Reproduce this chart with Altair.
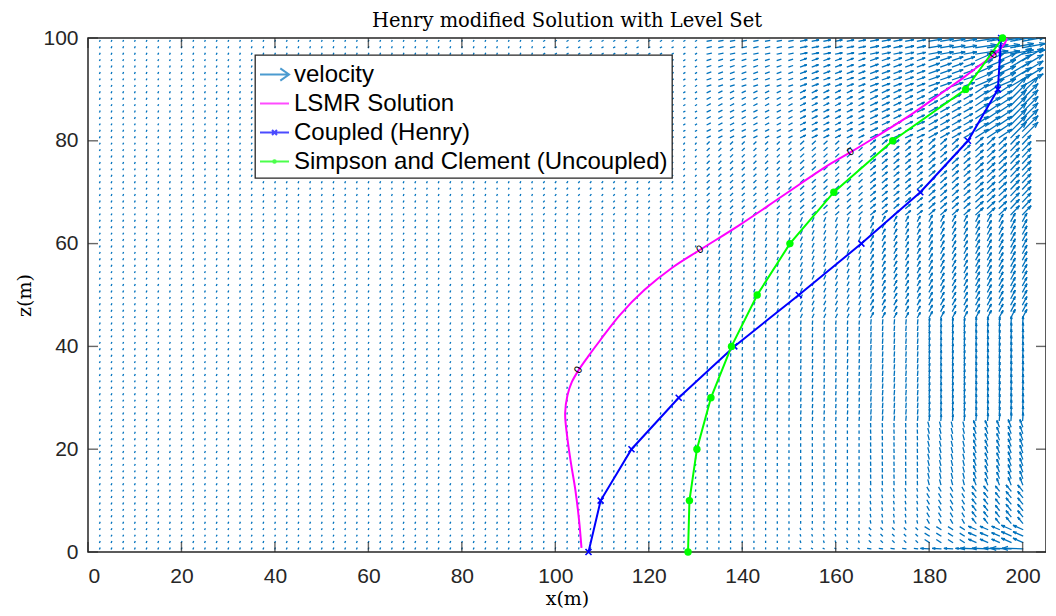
import altair as alt
import numpy as np
import pandas as pd

alt.data_transformers.disable_max_rows()

TITLE = "Henry modified Solution with Level Set"
x_ticks = [0, 20, 40, 60, 80, 100, 120, 140, 160, 180, 200]
z_ticks = [0, 20, 40, 60, 80, 100]

# zero level set of the LSMR solution (contour line)
lsmr_x = [105.6, 105.1, 104.3, 103.4, 102.6, 102.1, 102.6, 103.5, 105.0, 107.0, 109.6,
          113.8, 119.1, 125.0, 131.0, 139.4, 149.0, 158.5, 163.2, 168.1, 176.6, 183.0,
          187.2, 190.4, 193.8, 196.2, 196.6]
lsmr_z = [0.8, 6.0, 12.0, 17.0, 22.0, 27.0, 30.5, 33.0, 35.4, 38.0, 41.2,
          46.1, 51.0, 55.3, 58.8, 63.6, 69.5, 75.3, 77.8, 80.5, 85.4, 89.5,
          92.2, 94.4, 96.7, 99.0, 100.0]
# contour labels
clabel_x = [105.0, 131.0, 163.2, 193.8]
clabel_z = [35.4, 58.8, 77.8, 96.7]
clabel_angle = [300, 329, 328, 314]

# Coupled (Henry)
henry_z = [0, 10, 20, 30, 40, 50, 60, 70, 80, 90, 100]
henry_x = [107.1, 109.7, 116.3, 126.4, 138.3, 152.1, 165.5, 178.1, 188.3, 194.7, 195.4]
# Simpson and Clement (Uncoupled)
sc_z = [0, 10, 20, 30, 40, 50, 60, 70, 80, 90, 100]
sc_x = [128.4, 128.7, 130.3, 133.3, 137.7, 143.2, 150.2, 159.6, 172.2, 187.8, 195.7]

# velocity field: regular mesh, velocities read block-wise from the picture
grid_dx, grid_nx = 2.5, 80
grid_z0, grid_dz, grid_nz = 0.625, 1.25, 80
block_x_edges = [0, 96, 131, 151, 166, 179, 189, 196, 201]
block_z_edges = [0, 1.3, 5, 12, 25, 45, 65, 80, 90, 96, 100.1]
vel_u = [
    [0.3, 0.2, 0.0, -0.8, -3.0, -8.0, -15.0, -20.0],
    [0.3, 0.2, 0.0, -0.4, -1.5, -4.0, -7.0, -9.0],
    [0.3, 0.2, 0.0, 0.0, -0.5, -2.0, -3.5, -4.5],
    [0.3, 0.2, 0.0, 0.0, -0.2, -1.2, -2.2, -2.5],
    [0.3, 0.2, 0.2, 0.3, 0.4, 0.4, 0.5, 0.5],
    [0.3, 0.2, 0.8, 1.5, 2.5, 3.0, 3.5, 4.0],
    [0.3, 0.6, 2.0, 3.0, 4.5, 5.5, 7.0, 8.0],
    [0.3, 1.0, 3.0, 4.5, 6.5, 8.0, 12.0, 15.0],
    [0.3, 1.0, 3.5, 5.5, 7.0, 10.0, 16.0, 20.0],
    [0.3, 1.0, 4.0, 6.0, 7.5, 12.0, 20.0, 22.0],
]
vel_w = [
    [0.7, 0.8, 0.8, 0.5, 0.3, 0.3, 0.5, 0.5],
    [0.7, 0.8, 1.0, 1.2, 1.5, 2.5, 3.0, 4.0],
    [0.7, 0.8, 1.2, 1.5, 2.2, 3.5, 4.5, 5.5],
    [0.7, 0.8, 1.5, 2.0, 3.0, 4.5, 5.5, 6.5],
    [0.7, 0.8, 2.0, 2.8, 4.0, 5.2, 6.2, 7.0],
    [0.7, 0.8, 2.2, 3.2, 4.5, 5.5, 6.5, 7.5],
    [0.7, 0.8, 2.0, 2.8, 3.8, 5.0, 6.5, 8.5],
    [0.7, 0.6, 1.5, 2.2, 3.0, 4.5, 8.0, 15.0],
    [0.7, 0.6, 1.2, 2.0, 2.5, 3.5, 7.0, 12.0],
    [0.7, 0.6, 0.8, 1.2, 1.5, 2.0, 3.0, 4.0],
]

series = ["velocity", "LSMR Solution", "Coupled (Henry)", "Simpson and Clement (Uncoupled)"]
series_colors = ["#0072BD", "#FF00FF", "#0000FF", "#00FF00"]
series_symbols = [
    "M-1,0H0.9M0.4,-0.42L1,0L0.4,0.42",
    "M-1,0H1",
    "M-1,0H1M-0.17,-0.17L0.17,0.17M-0.17,0.17L0.17,-0.17",
    "M-1,0H1M0.09,0A0.09,0.09,0,1,1,-0.09,0A0.09,0.09,0,1,1,0.09,0",
]

W, H = 958, 514
XMAX, ZMAX = 205.0, 100.0
QX = XMAX / W      # quiver scale (m per velocity unit) along x
QZ = ZMAX / H      # along z

# ---- build the quiver segments ----
gx = np.arange(1, grid_nx + 1) * grid_dx
gz = grid_z0 + np.arange(grid_nz) * grid_dz
GX, GZ = np.meshgrid(gx, gz)
ci = np.searchsorted(block_x_edges, GX, side="right") - 1
ri = np.searchsorted(block_z_edges, GZ, side="right") - 1
U = np.array(vel_u)[ri, ci]
Wv = np.array(vel_w)[ri, ci]
x0, z0 = GX.ravel(), GZ.ravel()
u, w = U.ravel(), Wv.ravel()
x1, z1 = x0 + u * QX, z0 + w * QZ
segs = [pd.DataFrame({"x": x0, "z": z0, "x2": x1, "z2": z1})]
L = np.hypot(u, w)
m = L > 5.0
hl = np.minimum(0.25 * L[m], 5.0)
ang = np.arctan2(w[m], u[m])
for s in (1, -1):
    a = ang + np.pi - s * np.deg2rad(20)
    segs.append(pd.DataFrame({"x": x1[m], "z": z1[m],
                              "x2": x1[m] + hl * np.cos(a) * QX,
                              "z2": z1[m] + hl * np.sin(a) * QZ}))
quiver_df = pd.concat(segs, ignore_index=True).round(3)

xs = alt.Scale(domain=[0, XMAX], nice=False, zero=False, padding=0)
zs = alt.Scale(domain=[0, ZMAX], nice=False, zero=False, padding=0)
SERIF = "DejaVu Serif"
xax = alt.Axis(values=x_ticks, title="x(m)", titleFont=SERIF,
               titleFontSize=19, titleFontWeight="normal", titleColor="black",
               titlePadding=3, labelPadding=13)
zax = alt.Axis(values=z_ticks, title="z(m)", titleFont=SERIF,
               titleFontSize=19, titleFontWeight="normal", titleColor="black",
               titlePadding=8, labelPadding=10)

quiver = alt.Chart(quiver_df).mark_rule(
    color="#0072BD", strokeWidth=1.3, strokeCap="square", clip=True
).encode(
    x=alt.X("x:Q", scale=xs, axis=xax),
    y=alt.Y("z:Q", scale=zs, axis=zax),
    x2="x2:Q", y2="z2:Q",
)

lsmr_df = pd.DataFrame({"x": lsmr_x, "z": lsmr_z, "i": range(len(lsmr_x))})
lsmr = alt.Chart(lsmr_df).mark_line(color="#FF00FF", strokeWidth=2,
                                    interpolate="catmull-rom").encode(
    x=alt.X("x:Q", scale=xs), y=alt.Y("z:Q", scale=zs), order="i:Q")

clab_df = pd.DataFrame({"x": clabel_x, "z": clabel_z, "a": clabel_angle, "t": ["0"] * 4})
clab = alt.Chart(clab_df).mark_text(font="Liberation Sans", fontSize=11, color="black").encode(
    x=alt.X("x:Q", scale=xs), y=alt.Y("z:Q", scale=zs),
    angle=alt.Angle("a:Q", scale=None), text="t:N")

henry_df = pd.DataFrame({"x": henry_x, "z": henry_z})
henry_line = alt.Chart(henry_df).mark_line(color="#0000FF", strokeWidth=2).encode(
    x=alt.X("x:Q", scale=xs), y=alt.Y("z:Q", scale=zs), order="z:Q")
henry_pts = alt.Chart(henry_df).mark_point(
    shape="M-1,-1L1,1M-1,1L1,-1", size=36, filled=False, strokeWidth=1.6,
    color="#0000FF", opacity=1).encode(
    x=alt.X("x:Q", scale=xs), y=alt.Y("z:Q", scale=zs))

sc_df = pd.DataFrame({"x": sc_x, "z": sc_z})
sc_line = alt.Chart(sc_df).mark_line(color="#00FF00", strokeWidth=2).encode(
    x=alt.X("x:Q", scale=xs), y=alt.Y("z:Q", scale=zs), order="z:Q")
sc_pts = alt.Chart(sc_df).mark_circle(size=55, color="#00FF00", opacity=1).encode(
    x=alt.X("x:Q", scale=xs), y=alt.Y("z:Q", scale=zs))

# inward ticks on all four sides
TK = 10
xt_df = pd.DataFrame({"v": x_ticks})
zt_df = pd.DataFrame({"v": z_ticks})
tick_kw = dict(color="#262626", thickness=1.4, size=TK)
t_bottom = alt.Chart(xt_df).mark_tick(orient="vertical", **tick_kw).encode(
    x=alt.X("v:Q", scale=xs), y=alt.value(H - TK / 2))
t_top = alt.Chart(xt_df).mark_tick(orient="vertical", **tick_kw).encode(
    x=alt.X("v:Q", scale=xs), y=alt.value(TK / 2))
t_left = alt.Chart(zt_df).mark_tick(orient="horizontal", **tick_kw).encode(
    y=alt.Y("v:Q", scale=zs), x=alt.value(TK / 2))
t_right = alt.Chart(zt_df).mark_tick(orient="horizontal", **tick_kw).encode(
    y=alt.Y("v:Q", scale=zs), x=alt.value(W - TK / 2))

leg_kw = dict(title=None, orient="none", legendX=167, legendY=17,
              fillColor="white", strokeColor="#262626", padding=4,
              labelFont="Liberation Sans", labelFontSize=24, labelColor="black",
              labelOffset=4, labelLimit=600, symbolSize=841, rowPadding=1,
              symbolStrokeWidth=2)
legend_df = pd.DataFrame({"series": series})
legend_layer = alt.Chart(legend_df).mark_point(filled=False, strokeWidth=2).encode(
    color=alt.Color("series:N", scale=alt.Scale(domain=series, range=series_colors),
                    legend=alt.Legend(**leg_kw)),
    shape=alt.Shape("series:N", scale=alt.Scale(domain=series, range=series_symbols),
                    legend=alt.Legend(**leg_kw)),
).transform_filter("false")

chart = alt.layer(
    quiver, lsmr, henry_line, sc_line, henry_pts, sc_pts, clab,
    t_bottom, t_top, t_left, t_right, legend_layer
).properties(
    width=W, height=H,
    title=alt.TitleParams(TITLE, font=SERIF, fontSize=19.5,
                          fontWeight="normal", color="black", offset=-4, anchor="middle"),
    autosize=alt.AutoSizeParams(type="none"),
    padding={"left": 80, "top": 30, "right": 0, "bottom": 56},
).configure_view(stroke="#262626", strokeWidth=1.5).configure_axis(
    grid=False, domain=False, ticks=False, labelFont="Liberation Sans",
    labelFontSize=21, labelColor="#262626",
).configure_legend(strokeWidth=1.3)

chart.save("out.html", embed_options={"renderer": "svg", "actions": False})
